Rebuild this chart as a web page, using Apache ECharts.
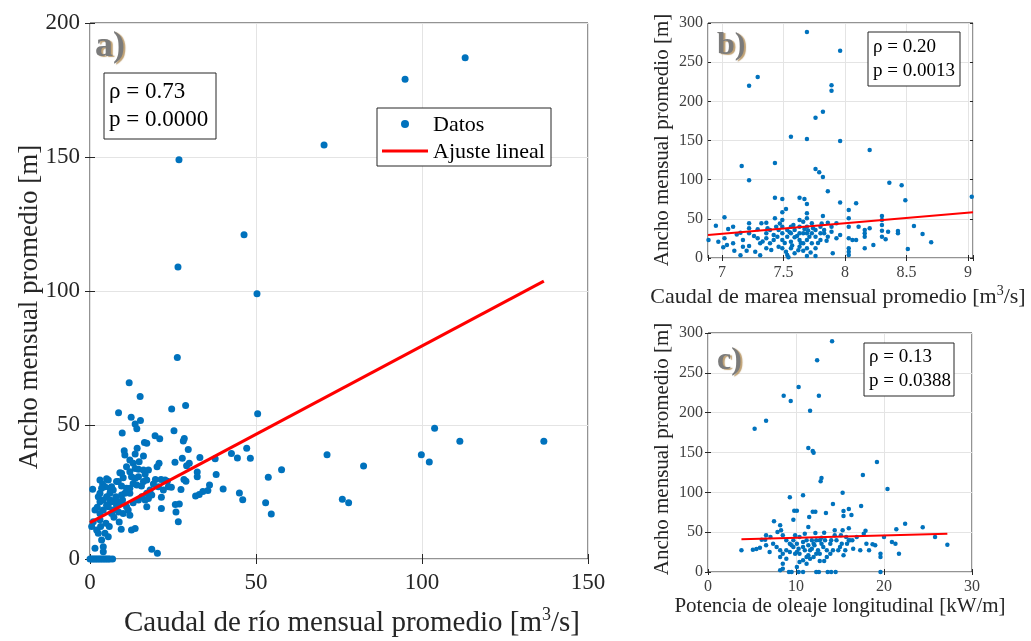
<!DOCTYPE html>
<html><head><meta charset="utf-8">
<script src="https://cdn.jsdelivr.net/npm/echarts@6/dist/echarts.min.js"></script>
<style>html,body{margin:0;padding:0;background:#fff}#c{width:1031px;height:641px}</style>
</head><body><div id="c"></div>
<script>
// ---------- DATA ----------
// Panel a) river discharge [m3/s] vs mean monthly width [m]
const aPoints = [
[113,187],[94.9,179],[70.5,154.5],[26.8,149],[46.4,121],[26.5,109],[50.3,99],
[26.3,75.2],[11.8,65.8],[15.1,60.6],[8.6,54.6],[24.6,56],[28.8,57.3],[50.5,54.2],[12.4,52.9],[15.2,51.7],[13.6,50.4],[14.1,48.6],[9.7,47],
[103.8,48.8],[111.4,43.9],[136.7,43.9],[99.8,38.9],[102.2,36.2],[71.4,38.9],[82.4,34.7],[76,22.3],[77.9,21],[57.7,33.3],[53.7,30.5],[52.9,21],[54.6,16.8],
[47.2,41.3],[48.3,37.6],[42.6,39.4],[44.4,37.7],[45,24.6],[46,22.1],[40.1,26.1],[37.7,37.4],[38,31.5],[36,27.6],[35.5,25.6],[34,25.2],[32.9,24.1],[31.8,23.5],
[33.1,37.9],[32.3,32.5],[32.3,30.7],[29.9,35.7],[29.6,40.9],[28.4,45],[28.1,44],[25.3,47.9],[27.8,37.6],[29.1,34.8],[25.6,36.1],[28.3,29.7],[28.9,29],[27.4,25.9],
[25.7,20.3],[26.9,20.5],[25.9,17.5],[26.6,13.9],[24.5,26.8],[23.3,29],[22.6,29.5],[21.4,29.7],[19.7,29.7],[21.5,23],[21.5,18.8],[20.8,35.7],[20.2,34.4],[19.6,46],[21,44.9],
[18.6,3.6],[20.3,2.1],[17.1,43.2],[16.4,43.5],[16.1,38.4],[14.2,41.3],[10.3,40.4],[10.5,38.8],[12,36.9],[13,35.7],[13.6,33.8],[14.6,33.5],[17.6,33.2],[16.6,31.6],
[16.1,28.9],[13.6,30.1],[9,32.2],[10,30.3],[8.5,28.9],[9.5,27.2],[11,26.4],[12,24.5],[13,21],[11.5,18.3],[12,16.3],[12.5,10.8],[13.6,11.4],[9.4,11.1],[8.8,13.8],
[7.2,15.6],[8.6,17.5],[7,18.3],[5.5,19.5],[4,18.3],[3,17],[1.5,18.3],[1,13.9],[0.5,12.1],[2,10.8],[1.5,4],[5.8,12.1],[4.5,9.6],[5.5,8.3],[3.5,7.1],[4,4.6],[4,2.7],
[0.8,26],[3,29.5],[3.8,28],[5,29.9],[6.5,27],[7,25.7],[3,24.5],[4,22],[5,23.2],[6.5,21.4],[7.8,23.2],[3,21.4],[2.2,19.3],[8,20.1],[9.8,22],[10.5,24.5],[9.5,23.9],
[9,21.4],[11,19.5],[14.6,30.7],[15.5,27.2],[17.1,24.5],[18.1,25.7],[18.6,23.9],[16.6,22],[15.6,23.2],[14.6,22],[17.1,19.5],[19.1,28],[17.6,22.6],[13,28.2],[12,26.4],
[14.1,27.6],[12.5,30.7],[12,32.6],[11,34.4],[9.5,32],[8,28.9],[6,26.4],[5.5,29.5],[4.5,27],[3.5,26.4],[2.5,23.2],[6,24.5],[7.5,22],[6,22],[5,20.1],[3,14.6],[2.5,9.6],
[3.2,12.1],[4.8,13.3],[6.5,17],[10,17],[22.1,25.7],[23.6,27],[20.6,27],[17.1,29.5],[16.1,33.2],[14.8,36.3],[13.6,39.2],
[0,0],[0.5,0],[1,0],[1.5,0],[2,0],[2.5,0],[3,0],[3.5,0],[4,0],[4.5,0],[5,0],[5.5,0],[6,0],[6.8,0]
];
const aFit = [[0,13.6],[136.7,103.7]];

// Panel b) tidal discharge vs width
const bPoints = [
[7.69,288.5],[7.96,264.7],[7.22,220],[7.29,231],[7.89,220.4],[7.89,213.6],[7.82,186.8],[7.76,179.1],[7.56,154.9],[7.69,151.9],[7.96,149.4],[8.20,137.9],
[7.16,117.4],[7.43,121.3],[7.76,113.6],[7.79,109.4],[7.82,103.4],[7.22,99.1],[7.86,85.1],[8.36,96.2],[8.46,92.8],[8.49,73.6],[9.03,78.3],[7.43,77],[7.49,75.3],
[7.63,77],[7.67,75.3],[7.69,69],[7.96,71],[8.09,69.8],[7.52,62.5],[7.49,58.3],[7.43,50.6],[7.02,51.9],[6.95,41.3],[6.89,23],[6.97,20.8],[7.02,25.1],[7.04,16.6],
[7.01,13.6],[7.09,18.7],[7.10,9.4],[7.09,40],[7.15,3.4],[7.17,14.5],[7.17,23],[7.15,32.3],[7.22,44.3],[7.22,37.9],[7.22,31.5],[7.22,15.3],[7.2,9.4],[7.27,8.1],
[7.31,3.4],[7.31,18.7],[7.29,36.6],[7.29,25.1],[7.32,44.3],[7.36,45.1],[7.36,31.5],[7.36,25.1],[7.36,12.3],[7.39,35.7],[7.39,18.7],[7.40,10.2],[7.42,23],[7.42,29.4],
[7.46,35.7],[7.46,14.5],[7.49,48.5],[7.49,40],[7.49,31.5],[7.49,23],[7.49,12.3],[7.53,35.7],[7.53,27.2],[7.53,3.8],[7.54,0.9],[7.56,40],[7.56,31.5],[7.56,20.8],
[7.56,12.3],[7.59,35.7],[7.59,26.4],[7.59,6],[7.63,40],[7.63,31.5],[7.63,23],[7.63,14.5],[7.63,48.5],[7.66,46.4],[7.66,31.5],[7.66,18.7],[7.66,9.4],[7.69,57],
[7.69,50.6],[7.69,40],[7.69,31.5],[7.69,23],[7.69,12.3],[7.69,2.6],[7.73,44.3],[7.73,31.5],[7.73,18.7],[7.76,35.7],[7.76,27.2],[7.76,12.3],[7.76,2.6],[7.80,40],
[7.80,31.5],[7.80,23],[7.82,53.6],[7.83,31.5],[7.83,35.7],[7.86,45.1],[7.86,27.2],[7.89,40],[7.89,33.6],[7.90,6],[7.93,25.1],[7.96,29.4],[8.03,61.3],[8.03,50.6],
[8.03,40],[8.03,25.1],[8.03,12.3],[8.03,8.1],[8.03,3.8],[8.06,23],[8.09,23],[8.11,40],[8.16,35.7],[8.16,31.5],[8.16,27.2],[8.16,12.3],[8.2,37.9],[8.23,16.6],
[8.30,53.6],[8.30,48.5],[8.30,42.1],[8.30,34.9],[8.30,27.2],[8.33,23.8],[8.35,33.6],[8.43,34.5],[8.43,31.5],[8.51,11.5],[8.56,40.8],[8.63,30.6],[8.70,20],[7.93,44.3],
[7.45,27],[7.51,19],[7.55,33],[7.58,42],[7.61,28],[7.64,19],[7.67,37],[7.71,27],[7.74,38],[7.78,19],[7.81,44],[7.85,22],[7.47,44],[7.57,16],[7.70,35],[7.52,8],
[7.62,10],[7.72,7],[7.44,40],[7.33,21],[7.37,38],[7.26,28],[7.12,30],[7.05,37]
];
const bFit = [[6.886,29.4],[9.04,58.3]];

// Panel c) longshore wave power vs width
const cPoints = [
[14.1,289.5],[12.4,265.7],[10.3,232.2],[8.6,221.3],[12.6,221.3],[9.4,214.6],[11.6,202.5],[6.6,190],[5.3,179.9],[11.4,155.6],[11.9,151.9],[12.0,149.8],
[19.2,138],[17.6,121.8],[12.9,118],[12.8,113.8],[20.4,104.2],[15.3,99.6],[10.8,96.2],[9.3,93.7],[14.2,85.4],[17.4,82.8],[16.0,79.1],[15.4,76.6],[9.8,77],[10.1,77],
[11.9,75.7],[12.2,75.7],[16.3,71.5],[15.4,70.3],[13.4,74],[9.7,65.7],[11.5,69],[7.5,63.6],[22.4,60.7],[24.4,56.1],[21.4,53.6],[17.9,51.9],[16.0,54.8],[15.3,52.3],
[14.4,52.3],[13.2,49.4],[3.8,27.2],[5.1,28],[5.5,28.9],[5.9,30.5],[6.1,40.6],[6.5,40.6],[6.6,46],[7.1,43.9],[7.9,50.2],[8.2,58.6],[8.3,52.3],[8.5,46],[8.9,39.7],
[9.3,35.6],[9.7,31.4],[10.1,35.6],[10.4,43.9],[10.8,31.4],[11.2,39.7],[11.6,27.2],[12.0,35.6],[12.3,23],[12.7,39.7],[13.1,31.4],[13.5,18.8],[13.9,35.6],[14.2,27.2],
[14.6,39.7],[15.0,31.4],[15.4,20.9],[15.8,35.6],[16.1,39.7],[16.5,29.3],[16.9,43.9],[17.3,27.2],[18.0,35.6],[18.7,34.7],[19.6,18.8],[19.6,23],[20.0,43.9],[20.9,37.7],
[21.3,35.6],[21.7,23],[25.8,43.9],[27.2,34.3],[8.5,10.5],[8.5,4.2],[8.2,2.1],
[9.2,0],[9.5,0],[10.3,0],[10.8,0],[12.3,0],[12.6,0],[13.6,0],[14.0,0],[14.5,0],[19.6,0],
[10.1,6.3],[10.4,12.6],[11.2,10.5],[11.6,16.7],[12.7,13.8],[13.2,13.8],[7.8,31.4],[7.4,35.6],[7.0,25.1],[6.6,33.5],[8.2,27.2],[8.2,18.8],[8.5,23],[8.9,27.2],
[8.9,16.7],[9.3,25.1],[9.7,39.7],[9.9,23],[10.3,29.3],[10.4,23],[10.8,37.7],[11.0,27.2],[11.4,33.5],[11.4,20.9],[11.8,39.7],[11.8,29.3],[12.0,18.8],[12.1,33.5],
[12.3,39.7],[12.5,27.2],[12.9,35.6],[13.3,39.7],[13.5,27.2],[13.9,23],[14.0,39.7],[14.8,27.2],[15.2,35.6],[15.6,27.2],[16.0,39.7],[11.2,18.8],[12.7,23],[10.8,14.6],
[9.5,33.5],[10.1,25.1],[9.9,46],[11.0,48.1],[11.4,56.5],[12.2,49],[12.9,43.1],[14.4,46],[15.1,46],[15.7,43.9],[16.4,39.7],[17.7,48.1],[18.3,27.2],[19.0,33.5]
];
const cFit = [[3.8,41],[27.2,48.1]];

const aStats = ['\u03c1 = 0.73', 'p = 0.0000'];
const bStats = ['\u03c1 = 0.20', 'p = 0.0013'];
const cStats = ['\u03c1 = 0.13', 'p = 0.0388'];

// ---------- STYLE ----------
const FF = 'Liberation Serif';
const BLUE = '#0072BD';
const AX = '#262626';
const GRIDC = '#e4e4e4';

function xAxes(gi, min, max, interval, fs, color, margin, tick, fmt) {
  const base = {gridIndex: gi, type: 'value', min, max, axisLine: {show: false}};
  if (interval) base.interval = interval;
  return [
    Object.assign({}, base, {position: 'bottom',
      axisTick: {show: true, inside: true, length: tick, lineStyle: {color: AX}},
      axisLabel: {fontFamily: FF, fontSize: fs, color, margin, formatter: fmt, showMinLabel: true},
      splitLine: {show: true, lineStyle: {color: GRIDC}}}),
    Object.assign({}, base, {position: 'top',
      axisTick: {show: true, inside: true, length: tick, lineStyle: {color: AX}},
      axisLabel: {show: false}, splitLine: {show: false}})
  ];
}
function yAxes(gi, min, max, interval, fs, color, margin, tick) {
  const base = {gridIndex: gi, type: 'value', min, max, interval, axisLine: {show: false}};
  return [
    Object.assign({}, base, {position: 'left',
      axisTick: {show: true, inside: true, length: tick, lineStyle: {color: AX}},
      axisLabel: {fontFamily: FF, fontSize: fs, color, margin},
      splitLine: {show: true, lineStyle: {color: GRIDC}}}),
    Object.assign({}, base, {position: 'right',
      axisTick: {show: true, inside: true, length: tick, lineStyle: {color: AX}},
      axisLabel: {show: false}, splitLine: {show: false}})
  ];
}
const halfFmt = v => (Math.abs(v * 2 - Math.round(v * 2)) < 1e-6 ? String(Math.round(v * 10) / 10) : '');

function statBox(x, y, w, h, lines, fs, dy) {
  return [
    {type: 'rect', z: 100, shape: {x, y, width: w, height: h}, style: {fill: '#fff', stroke: AX, lineWidth: 1}},
    {type: 'text', z: 101, x: x + 5, y: y + h / 2 - dy, style: {text: lines[0], fontFamily: FF, fontSize: fs, fill: '#000', align: 'left', verticalAlign: 'middle'}},
    {type: 'text', z: 101, x: x + 5, y: y + h / 2 + dy, style: {text: lines[1], fontFamily: FF, fontSize: fs, fill: '#000', align: 'left', verticalAlign: 'middle'}}
  ];
}
function panelTag(x, y, t, fs) {
  return {type: 'text', z: 101, x, y, style: {text: t, fontFamily: FF, fontWeight: 'bold', fontSize: fs, fill: '#7b7b7b',
    align: 'left', verticalAlign: 'middle', textShadowColor: 'rgba(170,130,70,0.75)', textShadowOffsetX: 2, textShadowOffsetY: 1, textShadowBlur: 1}};
}
function axTitle(x, y, parts, fs, rot) {
  const supFs = Math.round(fs * 0.62);
  const text = parts.length === 1 ? '{n|' + parts[0] + '}' : '{n|' + parts[0] + '}{s|3}{n|' + parts[1] + '}';
  return {type: 'text', z: 101, x, y, rotation: rot || 0,
    style: {text, align: 'center', verticalAlign: 'middle',
      rich: {n: {fontFamily: FF, fontSize: fs, fill: AX, lineHeight: fs * 1.15},
             s: {fontFamily: FF, fontSize: supFs, fill: AX, verticalAlign: 'top', lineHeight: fs * 1.15}}}};
}

const option = {
  animation: false,
  backgroundColor: '#fff',
  grid: [
    {left: 90, top: 23, width: 498, height: 536, show: true, borderColor: AX, borderWidth: 1, backgroundColor: 'transparent'},
    {left: 708, top: 23, width: 265, height: 235, show: true, borderColor: AX, borderWidth: 1, backgroundColor: 'transparent'},
    {left: 708, top: 333, width: 264, height: 239, show: true, borderColor: AX, borderWidth: 1, backgroundColor: 'transparent'}
  ],
  xAxis: [
    ...xAxes(0, 0, 150, 50, 23, AX, 12, 5),
    ...xAxes(1, 6.886, 9.04, null, 16, '#404040', 7, 3, halfFmt),
    ...xAxes(2, 0, 30, 10, 16, '#404040', 7, 3)
  ],
  yAxis: [
    ...yAxes(0, 0, 200, 50, 23, AX, 10, 5),
    ...yAxes(1, 0, 300, 50, 16, '#404040', 5, 3),
    ...yAxes(2, 0, 300, 50, 16, '#404040', 5, 3)
  ],
  series: [
    {type: 'scatter', name: 'Datos', xAxisIndex: 0, yAxisIndex: 0, data: aPoints, symbolSize: 7, itemStyle: {color: BLUE, opacity: 1}, z: 2},
    {type: 'line', name: 'Ajuste lineal', xAxisIndex: 0, yAxisIndex: 0, data: aFit, symbol: 'none', lineStyle: {color: '#ff0000', width: 3}, z: 3},
    {type: 'scatter', xAxisIndex: 2, yAxisIndex: 2, data: bPoints, symbolSize: 4.5, itemStyle: {color: BLUE, opacity: 1}, z: 2},
    {type: 'line', xAxisIndex: 2, yAxisIndex: 2, data: bFit, symbol: 'none', lineStyle: {color: '#ff0000', width: 2}, z: 3},
    {type: 'scatter', xAxisIndex: 4, yAxisIndex: 4, data: cPoints, symbolSize: 4.5, itemStyle: {color: BLUE, opacity: 1}, z: 2},
    {type: 'line', xAxisIndex: 4, yAxisIndex: 4, data: cFit, symbol: 'none', lineStyle: {color: '#ff0000', width: 2}, z: 3}
  ],
  graphic: [
    // axis titles
    axTitle(30, 307, ['Ancho mensual promedio [m]'], 27, Math.PI / 2),
    axTitle(352, 623, ['Caudal de r\u00edo mensual promedio [m', '/s]'], 29),
    axTitle(662, 140, ['Ancho mensual promedio [m]'], 21, Math.PI / 2),
    axTitle(838, 297, ['Caudal de marea mensual promedio [m', '/s]'], 22),
    axTitle(662, 449, ['Ancho mensual promedio [m]'], 21, Math.PI / 2),
    axTitle(840, 606, ['Potencia de oleaje longitudinal [kW/m]'], 21),
    // panel tags
    panelTag(95, 47, 'a)', 36),
    panelTag(717, 46, 'b)', 32),
    panelTag(717, 361, 'c)', 32),
    // stats boxes
    ...statBox(104, 73, 112, 66, aStats, 23, 14),
    ...statBox(868, 32, 92, 54, bStats, 19, 12),
    ...statBox(864, 343, 90, 53, cStats, 19, 12),
    // legend
    {type: 'rect', z: 100, shape: {x: 377, y: 108, width: 174, height: 58}, style: {fill: '#fff', stroke: AX, lineWidth: 1}},
    {type: 'circle', z: 101, shape: {cx: 405, cy: 124, r: 4}, style: {fill: BLUE}},
    {type: 'line', z: 101, shape: {x1: 382, y1: 151, x2: 428, y2: 151}, style: {stroke: '#ff0000', lineWidth: 3}},
    {type: 'text', z: 101, x: 433, y: 125, style: {text: 'Datos', fontFamily: FF, fontSize: 22, fill: '#000', align: 'left', verticalAlign: 'middle'}},
    {type: 'text', z: 101, x: 433, y: 152, style: {text: 'Ajuste lineal', fontFamily: FF, fontSize: 22, fill: '#000', align: 'left', verticalAlign: 'middle'}}
  ]
};
const chart = echarts.init(document.getElementById('c'), null, {renderer: 'canvas'});
chart.setOption(option);
</script>
</body></html>
